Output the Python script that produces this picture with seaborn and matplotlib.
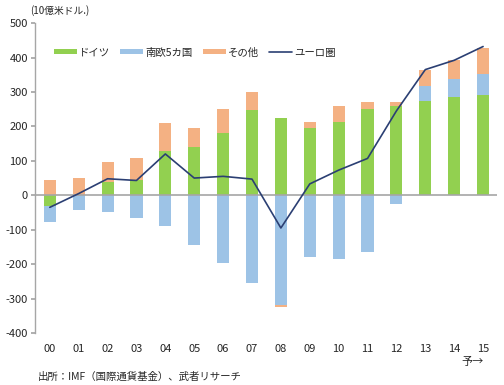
import numpy as np
import pandas as pd
import matplotlib
matplotlib.use("Agg")
import matplotlib.pyplot as plt
import seaborn as sns

years = ["00", "01", "02", "03", "04", "05", "06", "07", "08", "09", "10", "11", "12", "13", "14", "15"]
germany = [-30, 0, 40, 45, 130, 140, 182, 248, 225, 195, 212, 250, 258, 273, 284, 290]
south5 = [-48, -43, -48, -65, -90, -143, -198, -255, -320, -180, -185, -165, -25, 45, 53, 63]
others = [45, 50, 57, 63, 80, 55, 68, 52, -3, 17, 46, 22, 12, 45, 55, 75]
eurozone = [-35, 5, 48, 43, 120, 50, 55, 47, -95, 33, 73, 107, 245, 365, 392, 432]
yticks = [-400, -300, -200, -100, 0, 100, 200, 300, 400, 500]

sns.set_theme(style="white")
plt.rcParams['font.family'] = ['Noto Sans CJK JP', 'DejaVu Sans']

fig = plt.figure(figsize=(5.04, 3.85), dpi=100)
ax = fig.add_axes([0.069, 0.135, 0.917, 0.805])

series = [("ドイツ", germany, "#92D050"), ("南欧5カ国", south5, "#9DC3E6"), ("その他", others, "#F4B183")]
pos_cum = np.zeros(len(years))
neg_cum = np.zeros(len(years))
for name, vals, col in series:
    v = np.array(vals, dtype=float)
    bottom = np.where(v >= 0, pos_cum, neg_cum)
    df = pd.DataFrame({"year": years, "val": v})
    sns.barplot(data=df, x="year", y="val", order=years, bottom=bottom, color=col,
                width=0.42, saturation=1, label=name, ax=ax, linewidth=0)
    pos_cum = pos_cum + np.where(v >= 0, v, 0)
    neg_cum = neg_cum + np.where(v < 0, v, 0)

ldf = pd.DataFrame({"x": np.arange(len(years)), "y": eurozone})
sns.lineplot(data=ldf, x="x", y="y", color="#2B3F73", linewidth=1.2, label="ユーロ圏", ax=ax)

ax.axhline(0, color="#A6A6A6", linewidth=1.2, zorder=1)
ax.set_xlim(-0.52, 15.48)
ax.set_ylim(-400, 500)
ax.set_yticks(yticks)
ax.set_yticklabels([str(t) for t in yticks], fontsize=8)
ax.set_xticks(np.arange(len(years)))
ax.set_xticklabels(years, fontsize=8)
ax.tick_params(axis="x", length=0, pad=8)
ax.tick_params(axis="y", length=3, direction="out", color="#A6A6A6", left=True, pad=2)
ax.set_xlabel("")
ax.set_ylabel("")
for s in ["top", "right", "bottom"]:
    ax.spines[s].set_visible(False)
ax.spines["left"].set_color("#A6A6A6")
ax.spines["left"].set_linewidth(1)

handles, labels = ax.get_legend_handles_labels()
order = [labels.index(n) for n in ["ドイツ", "南欧5カ国", "その他", "ユーロ圏"]]
ax.legend([handles[i] for i in order], [labels[i] for i in order],
          loc="upper left", bbox_to_anchor=(0.025, 0.945), ncol=4, frameon=False,
          fontsize=7.5, handlelength=2.2, handletextpad=0.2, columnspacing=1.0,
          handleheight=0.4, borderpad=0.2)

fig.text(0.06, 0.965, "(10億米ドル.)", fontsize=7)
fig.text(0.915, 0.052, "予→", fontsize=8)
fig.text(0.075, 0.012, "出所：IMF（国際通貨基金）、武者リサーチ", fontsize=7.5)

fig.savefig("out.png", dpi=100)
